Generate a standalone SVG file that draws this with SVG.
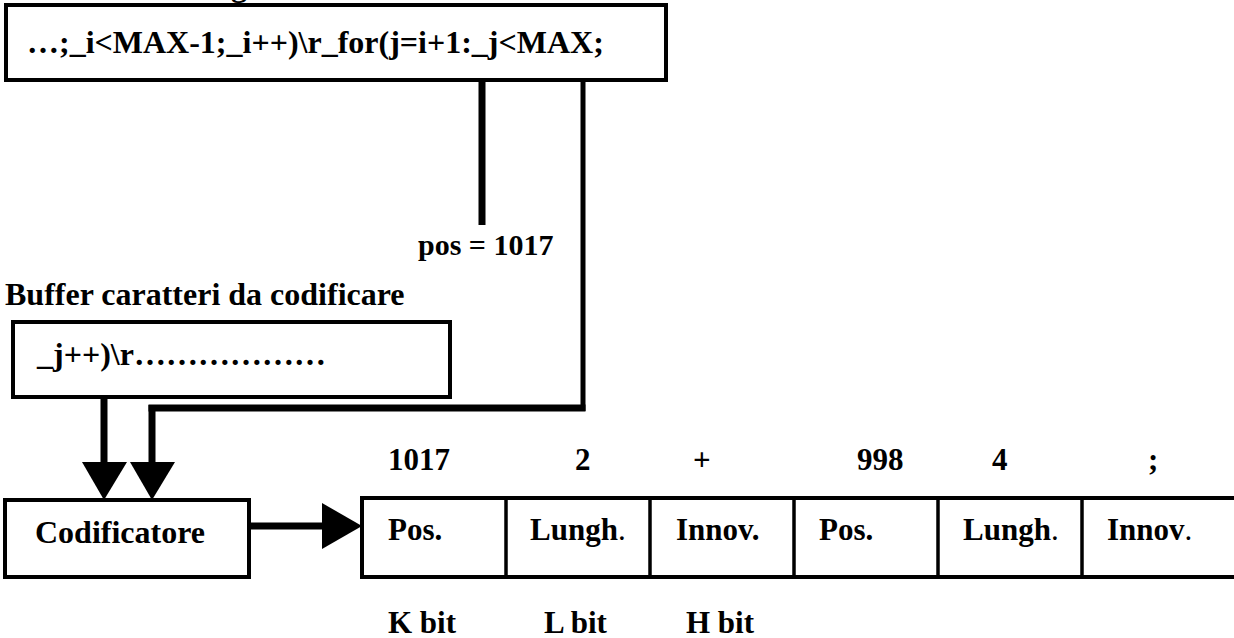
<svg xmlns="http://www.w3.org/2000/svg" width="1234" height="638" viewBox="0 0 1234 638">
<style>
text{font-family:"Liberation Serif","Times New Roman",serif;font-weight:bold;fill:#000}
.t32{font-size:32px}
.t31{font-size:31px}
.t30{font-size:30px}
.box{fill:#fff;stroke:#000;stroke-width:4}
.div{stroke:#000;stroke-width:3.5}
.ln{stroke:#000;fill:none}
.head{fill:#000}
.lt{font-weight:normal}
</style>
<rect width="1234" height="638" fill="#fff"/>
<text class="t32" x="231" y="-4">g</text>
<g id="window">
<rect class="box" x="6" y="5" width="660" height="75"/>
<text class="t32" x="27" y="53">…;_i&lt;MAX-1;_i++)\r_for(j=i+1:_j&lt;MAX;</text>
</g>
<g id="pos-label">
<text class="t30" x="418" y="255">pos = 1017</text>
</g>
<g id="buffer-label">
<text class="t32" x="5" y="305">Buffer caratteri da codificare</text>
</g>
<g id="buffer">
<rect class="box" x="13" y="322" width="437" height="75"/>
<text class="t32" x="37" y="365">_j++)\r………………</text>
</g>
<g id="codificatore">
<rect class="box" x="5" y="500" width="244" height="77"/>
<text class="t32" x="35" y="543">Codificatore</text>
</g>
<g id="record">
<rect class="box" x="362" y="498" width="900" height="79" stroke-width="3.5"/>
<line class="div" x1="506" y1="498" x2="506" y2="577"/>
<line class="div" x1="650" y1="498" x2="650" y2="577"/>
<line class="div" x1="794" y1="498" x2="794" y2="577"/>
<line class="div" x1="938" y1="498" x2="938" y2="577"/>
<line class="div" x1="1082" y1="498" x2="1082" y2="577"/>
<text class="t31" x="388" y="540">Pos.</text>
<text class="t31" x="530" y="540">Lungh<tspan class="lt">.</tspan></text>
<text class="t31" x="676" y="540">Innov.</text>
<text class="t31" x="819" y="540">Pos.</text>
<text class="t31" x="963" y="540">Lungh<tspan class="lt">.</tspan></text>
<text class="t31" x="1107" y="540">Innov<tspan class="lt">.</tspan></text>
</g>
<g id="values">
<text class="t31" x="388" y="470">1017</text>
<text class="t31" x="575" y="470">2</text>
<text class="t31" x="693" y="470">+</text>
<text class="t31" x="857" y="470">998</text>
<text class="t31" x="992" y="470">4</text>
<text class="t31" x="1148" y="470">;</text>
</g>
<g id="bit-labels">
<text class="t31" x="388" y="633">K bit</text>
<text class="t31" x="544" y="633">L bit</text>
<text class="t31" x="686" y="633">H bit</text>
</g>
<g id="connectors">
<line class="ln" x1="482" y1="80" x2="482" y2="225" stroke-width="7"/>
<line class="ln" x1="583" y1="80" x2="583" y2="411" stroke-width="5"/>
<line class="ln" x1="148.5" y1="408" x2="585.5" y2="408" stroke-width="7"/>
<line class="ln" x1="152" y1="405" x2="152" y2="466" stroke-width="7"/>
<polygon class="head" points="130,462 175,462 152,500"/>
<line class="ln" x1="104" y1="397" x2="104" y2="466" stroke-width="7"/>
<polygon class="head" points="82,462 127,462 104,500"/>
<line class="ln" x1="249" y1="526" x2="326" y2="526" stroke-width="7"/>
<polygon class="head" points="322,503 322,549 362,526"/>
</g>
</svg>
